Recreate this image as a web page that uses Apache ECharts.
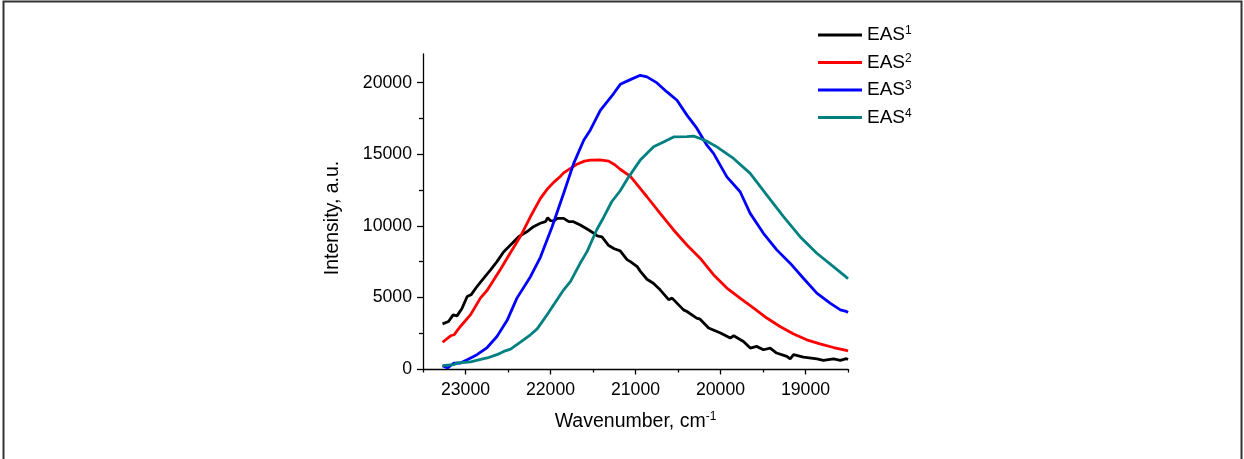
<!DOCTYPE html>
<html>
<head>
<meta charset="utf-8">
<script src="https://cdn.jsdelivr.net/npm/echarts@6/dist/echarts.min.js"></script>
<style>
  html, body { margin: 0; padding: 0; background: #fff; }
  #chart { width: 1244px; height: 459px; }
</style>
</head>
<body>
<div id="chart"></div>
<script>
// Emission-associated spectra: [wavenumber (cm^-1), intensity (a.u.)]
const eas1 = [
  [23270, 3150], [23200, 3320], [23145, 3780], [23100, 3710], [23040, 4250],
  [22980, 5060], [22935, 5180], [22865, 5760], [22785, 6340], [22705, 6920],
  [22630, 7500], [22550, 8190], [22450, 8780], [22375, 9240], [22275, 9600],
  [22200, 9940], [22120, 10180], [22060, 10290], [22033, 10560], [22000, 10360],
  [21960, 10350], [21920, 10520], [21845, 10520], [21785, 10290], [21730, 10290],
  [21650, 10060], [21550, 9710], [21490, 9480], [21450, 9300], [21395, 9230],
  [21315, 8620], [21250, 8400], [21180, 8250], [21100, 7640], [21060, 7500],
  [20980, 7150], [20940, 6800], [20865, 6270], [20790, 5990], [20710, 5530],
  [20610, 4840], [20570, 4950], [20435, 4130], [20395, 4015], [20280, 3550],
  [20240, 3480], [20140, 2860], [20000, 2510], [19885, 2160], [19845, 2320],
  [19730, 1920], [19650, 1460], [19575, 1580], [19495, 1345], [19415, 1460],
  [19340, 1115], [19220, 880], [19180, 700], [19140, 1000], [19025, 830],
  [18865, 700], [18790, 600], [18670, 700], [18590, 600], [18520, 720],
  [18500, 660]
];
const eas2 = [
  [23270, 1870], [23175, 2320], [23135, 2390], [23060, 2970], [22940, 3800],
  [22825, 4950], [22745, 5500], [22590, 6950], [22470, 8130], [22355, 9250],
  [22235, 10650], [22120, 11900], [22040, 12550], [21960, 13050], [21885, 13450],
  [21845, 13700], [21765, 14010], [21690, 14300], [21600, 14520], [21530, 14590],
  [21420, 14600], [21315, 14520], [21240, 14250], [21180, 13950], [21060, 13450],
  [20945, 12620], [20865, 12030], [20710, 10870], [20552, 9710], [20395, 8660],
  [20240, 7740], [20080, 6570], [19925, 5650], [19770, 4950], [19610, 4250],
  [19455, 3560], [19300, 2970], [19140, 2440], [18985, 2040], [18830, 1760],
  [18670, 1500], [18520, 1300], [18500, 1260]
];
const eas3 = [
  [23270, 230], [23210, 70], [23140, 400], [23060, 420], [22980, 650],
  [22865, 1000], [22745, 1500], [22630, 2270], [22510, 3400], [22395, 4950],
  [22236, 6450], [22119, 7800], [21981, 9940], [21845, 12270], [21727, 14360],
  [21609, 15980], [21531, 16700], [21414, 18070], [21257, 19240], [21179, 19880],
  [21061, 20210], [20944, 20510], [20865, 20400], [20747, 19980], [20630, 19350],
  [20512, 18770], [20395, 17730], [20277, 16800], [20160, 15630], [20082, 15060],
  [19925, 13420], [19769, 12380], [19651, 10870], [19495, 9480], [19338, 8320],
  [19181, 7390], [19025, 6340], [18867, 5300], [18711, 4600], [18590, 4130],
  [18520, 4020], [18500, 3950]
];
const eas4 = [
  [23270, 230], [23140, 300], [23100, 420], [22940, 500], [22785, 720],
  [22745, 770], [22630, 1000], [22550, 1230], [22470, 1390], [22350, 1900],
  [22236, 2390], [22157, 2800], [22040, 3785], [21845, 5530], [21766, 6106],
  [21650, 7400], [21570, 8197], [21453, 9760], [21374, 10600], [21280, 11680],
  [21180, 12450], [21080, 13420], [20944, 14590], [20787, 15515], [20670, 15860],
  [20552, 16210], [20395, 16230], [20317, 16260], [20239, 16100], [20160, 15900],
  [20043, 15515], [19847, 14707], [19651, 13661], [19455, 12149], [19259, 10636],
  [19064, 9242], [18867, 8085], [18672, 7151], [18520, 6412], [18500, 6300]
];

const seriesNames = ['EAS1', 'EAS2', 'EAS3', 'EAS4'];
const seriesSup = ['1', '2', '3', '4'];
const seriesColors = ['#000000', '#ff0000', '#0000ff', '#008080'];

// Axis ranges and tick positions
const xRange = [18500, 23500];
const yRange = [0, 22000];
const xLabelTicks = [23000, 22000, 21000, 20000, 19000];
const xMinorTicks = [23500, 22500, 21500, 20500, 19500, 18500];
const yLabelTicks = [0, 5000, 10000, 15000, 20000];
const yMinorTicks = [2500, 7500, 12500, 17500];

const FONT = '"Liberation Sans", Arial, sans-serif';
const grid = { left: 423, right: 396, top: 54, bottom: 90 };

const chart = echarts.init(document.getElementById('chart'), null, { renderer: 'canvas' });

const supIndex = {};
seriesNames.forEach((n, i) => { supIndex[n] = seriesSup[i]; });

const axisBase = {
  axisLine: { show: true, lineStyle: { color: '#000', width: 1.3 } },
  splitLine: { show: false },
};

chart.setOption({
  animation: false,
  backgroundColor: '#fff',
  graphic: [{
    type: 'rect',
    shape: { x: 3.5, y: 1.5, width: 1238, height: 520 },
    style: { fill: 'none', stroke: '#333', lineWidth: 2 },
    silent: true
  }],
  grid: grid,
  legend: {
    orient: 'vertical',
    left: 818,
    top: 25,
    padding: 0,
    itemWidth: 44,
    itemHeight: 3,
    itemGap: 8,
    icon: 'rect',
    data: seriesNames,
    formatter: n => '{b|EAS}{s|' + supIndex[n] + '}',
    textStyle: {
      color: '#000',
      fontFamily: FONT,
      rich: {
        b: { fontSize: 19, lineHeight: 20, fontFamily: FONT, color: '#000' },
        s: { fontSize: 12, lineHeight: 12, verticalAlign: 'top', fontFamily: FONT, color: '#000' }
      }
    }
  },
  xAxis: [
    Object.assign({}, axisBase, {
      type: 'value',
      min: xRange[0], max: xRange[1],
      inverse: true,
      position: 'bottom',
      name: '{a|Wavenumber, cm}{s|-1}',
      nameLocation: 'middle',
      nameGap: 42,
      nameTextStyle: {
        color: '#000',
        fontFamily: FONT,
        rich: {
          a: { fontSize: 19.5, lineHeight: 22, fontFamily: FONT, color: '#000' },
          s: { fontSize: 12, lineHeight: 13, verticalAlign: 'top', fontFamily: FONT, color: '#000' }
        }
      },
      axisTick: { show: true, customValues: xLabelTicks, length: 5.5, lineStyle: { color: '#000', width: 1.3 } },
      axisLabel: {
        customValues: xLabelTicks,
        formatter: v => String(v),
        margin: 12,
        color: '#000',
        fontSize: 17.7,
        fontFamily: FONT
      }
    }),
    {
      type: 'value',
      min: xRange[0], max: xRange[1],
      inverse: true,
      position: 'bottom',
      axisLine: { show: false },
      splitLine: { show: false },
      axisLabel: { show: false },
      axisTick: { show: true, customValues: xMinorTicks, length: 3.5, lineStyle: { color: '#000', width: 1.3 } }
    }
  ],
  yAxis: [
    Object.assign({}, axisBase, {
      type: 'value',
      min: yRange[0], max: yRange[1],
      position: 'left',
      name: 'Intensity, a.u.',
      nameLocation: 'middle',
      nameGap: 80,
      nameTextStyle: {
        color: '#000',
        fontFamily: FONT,
        fontSize: 19.5,
        padding: [0, 13, 0, 0]
      },
      axisTick: { show: true, customValues: yLabelTicks, length: 6, lineStyle: { color: '#000', width: 1.3 } },
      axisLabel: {
        customValues: yLabelTicks,
        formatter: v => String(v),
        margin: 11,
        color: '#000',
        fontSize: 17.7,
        fontFamily: FONT
      }
    }),
    {
      type: 'value',
      min: yRange[0], max: yRange[1],
      position: 'left',
      offset: 0,
      axisLine: { show: false },
      splitLine: { show: false },
      axisLabel: { show: false },
      axisTick: { show: true, customValues: yMinorTicks, length: 4, lineStyle: { color: '#000', width: 1.3 } }
    }
  ],
  series: [eas1, eas2, eas3, eas4].map((d, i) => ({
    name: seriesNames[i],
    type: 'line',
    xAxisIndex: 0,
    yAxisIndex: 0,
    data: d,
    showSymbol: false,
    symbol: 'none',
    color: seriesColors[i],
    lineStyle: { color: seriesColors[i], width: 2.8 },
    z: 2 + i
  }))
});
</script>
</body>
</html>
